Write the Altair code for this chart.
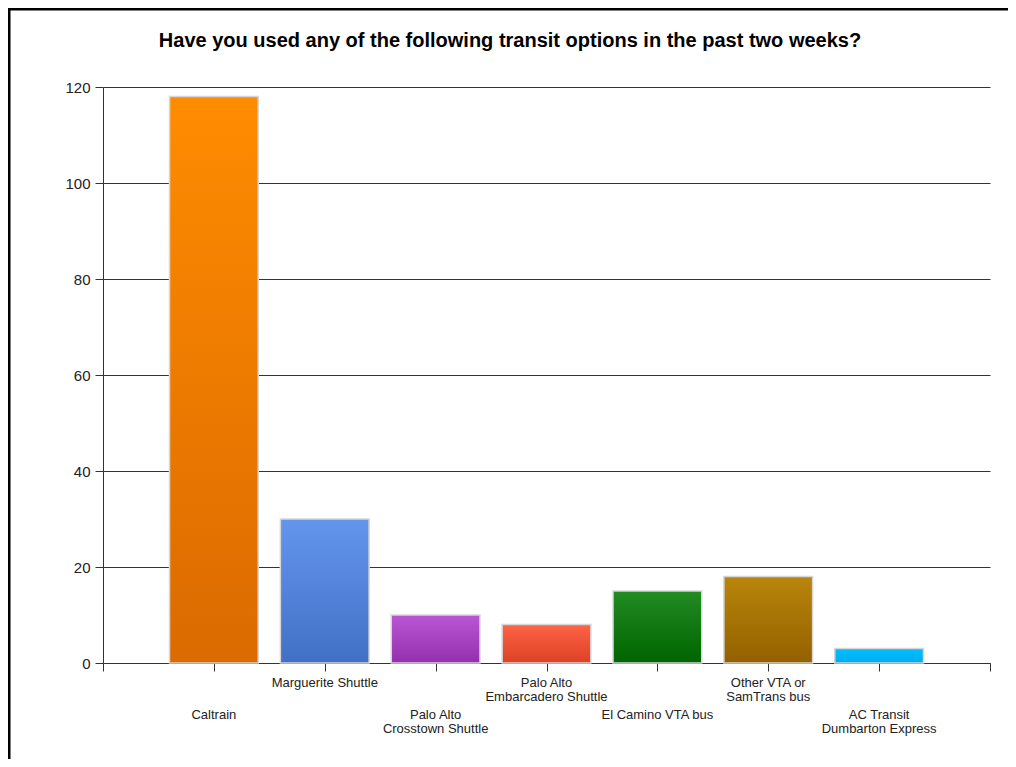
import altair as alt
import pandas as pd

title_text = "Have you used any of the following transit options in the past two weeks?"
categories = [
    "Caltrain",
    "Marguerite Shuttle",
    "Palo Alto\nCrosstown Shuttle",
    "Palo Alto\nEmbarcadero Shuttle",
    "El Camino VTA bus",
    "Other VTA or\nSamTrans bus",
    "AC Transit\nDumbarton Express",
]
values = [118, 30, 10, 8, 15, 18, 3]
top_colors = ["#FF8C00", "#6495ED", "#BA55D3", "#FF6347", "#228B22", "#B8860B", "#00BFFF"]
bottom_colors = ["#DB6A00", "#4170C6", "#9430AE", "#DB4124", "#006400", "#946000", "#00ADF0"]
y_ticks = [0, 20, 40, 60, 80, 100, 120]
x_ticks = [0, 1, 2, 3, 4, 5, 6, 7, 8]

df = pd.DataFrame({
    "cat": categories,
    "value": values,
    "idx": list(range(1, len(categories) + 1)),
})

FONT = "Liberation Sans"
W, H = 887, 576

base = alt.Chart(df).transform_calculate(
    lo="datum.idx - 0.4", hi="datum.idx + 0.4"
)

xscale = alt.Scale(domain=[0, 8], nice=False, zero=False)
yscale = alt.Scale(domain=[0, 120], nice=False)

axis_layer = base.mark_bar(opacity=0).encode(
    x=alt.X("lo:Q", scale=xscale,
            axis=alt.Axis(values=x_ticks, labels=False, title=None, grid=False,
                          tickSize=8, tickColor="#333333", domainColor="#333333")),
    x2="hi:Q",
    y=alt.Y("value:Q", scale=yscale,
            axis=alt.Axis(values=y_ticks, title=None, grid=True, gridColor="#333333",
                          gridOpacity=1, tickSize=8, tickColor="#333333",
                          domainColor="#333333", labelFont=FONT, labelFontSize=15,
                          labelColor="#222222", labelPadding=5)),
    y2=alt.datum(0),
)

layers = [axis_layer]
for i, (c1, c2) in enumerate(zip(top_colors, bottom_colors), start=1):
    grad = alt.Gradient(
        gradient="linear",
        stops=[alt.GradientStop(color=c1, offset=0), alt.GradientStop(color=c2, offset=1)],
        x1=0, x2=0, y1=0, y2=1,
    )
    layers.append(
        base.transform_filter(f"datum.idx == {i}")
        .mark_bar(fill=grad, stroke="#D6D6D6", strokeWidth=1.5)
        .encode(x=alt.X("lo:Q", scale=xscale), x2="hi:Q",
                y=alt.Y("value:Q", scale=yscale), y2=alt.datum(0))
    )

label_upper = base.transform_filter("datum.idx % 2 == 0").mark_text(
    font=FONT, fontSize=13, color="#222222", baseline="top", align="center",
    lineBreak="\n", lineHeight=14
).encode(x=alt.X("idx:Q", scale=xscale), y=alt.value(H + 14), text="cat:N")

label_lower = base.transform_filter("datum.idx % 2 == 1").mark_text(
    font=FONT, fontSize=13, color="#222222", baseline="top", align="center",
    lineBreak="\n", lineHeight=14
).encode(x=alt.X("idx:Q", scale=xscale), y=alt.value(H + 46), text="cat:N")

one = alt.Chart(pd.DataFrame({"t": [title_text]}))
title = one.mark_text(
    font=FONT, fontSize=20, fontWeight="bold", color="#000000",
    baseline="alphabetic", align="center"
).encode(x=alt.value(407), y=alt.value(-40), text="t:N")

border_left = one.mark_rule(color="#000000", strokeWidth=3).encode(
    x=alt.value(-94), y=alt.value(-80), y2=alt.value(H + 100))
border_top = one.mark_rule(color="#000000", strokeWidth=3).encode(
    y=alt.value(-78), x=alt.value(-96), x2=alt.value(W + 30))

chart = alt.layer(*layers, label_upper, label_lower, title, border_left, border_top).properties(
    width=W, height=H,
    autosize=alt.AutoSizeParams(type="none"),
    padding={"left": 95, "top": 79, "right": 18, "bottom": 96},
    background="white",
).configure_view(stroke=None)

chart.save("out.html", embed_options={"renderer": "svg", "actions": False})
